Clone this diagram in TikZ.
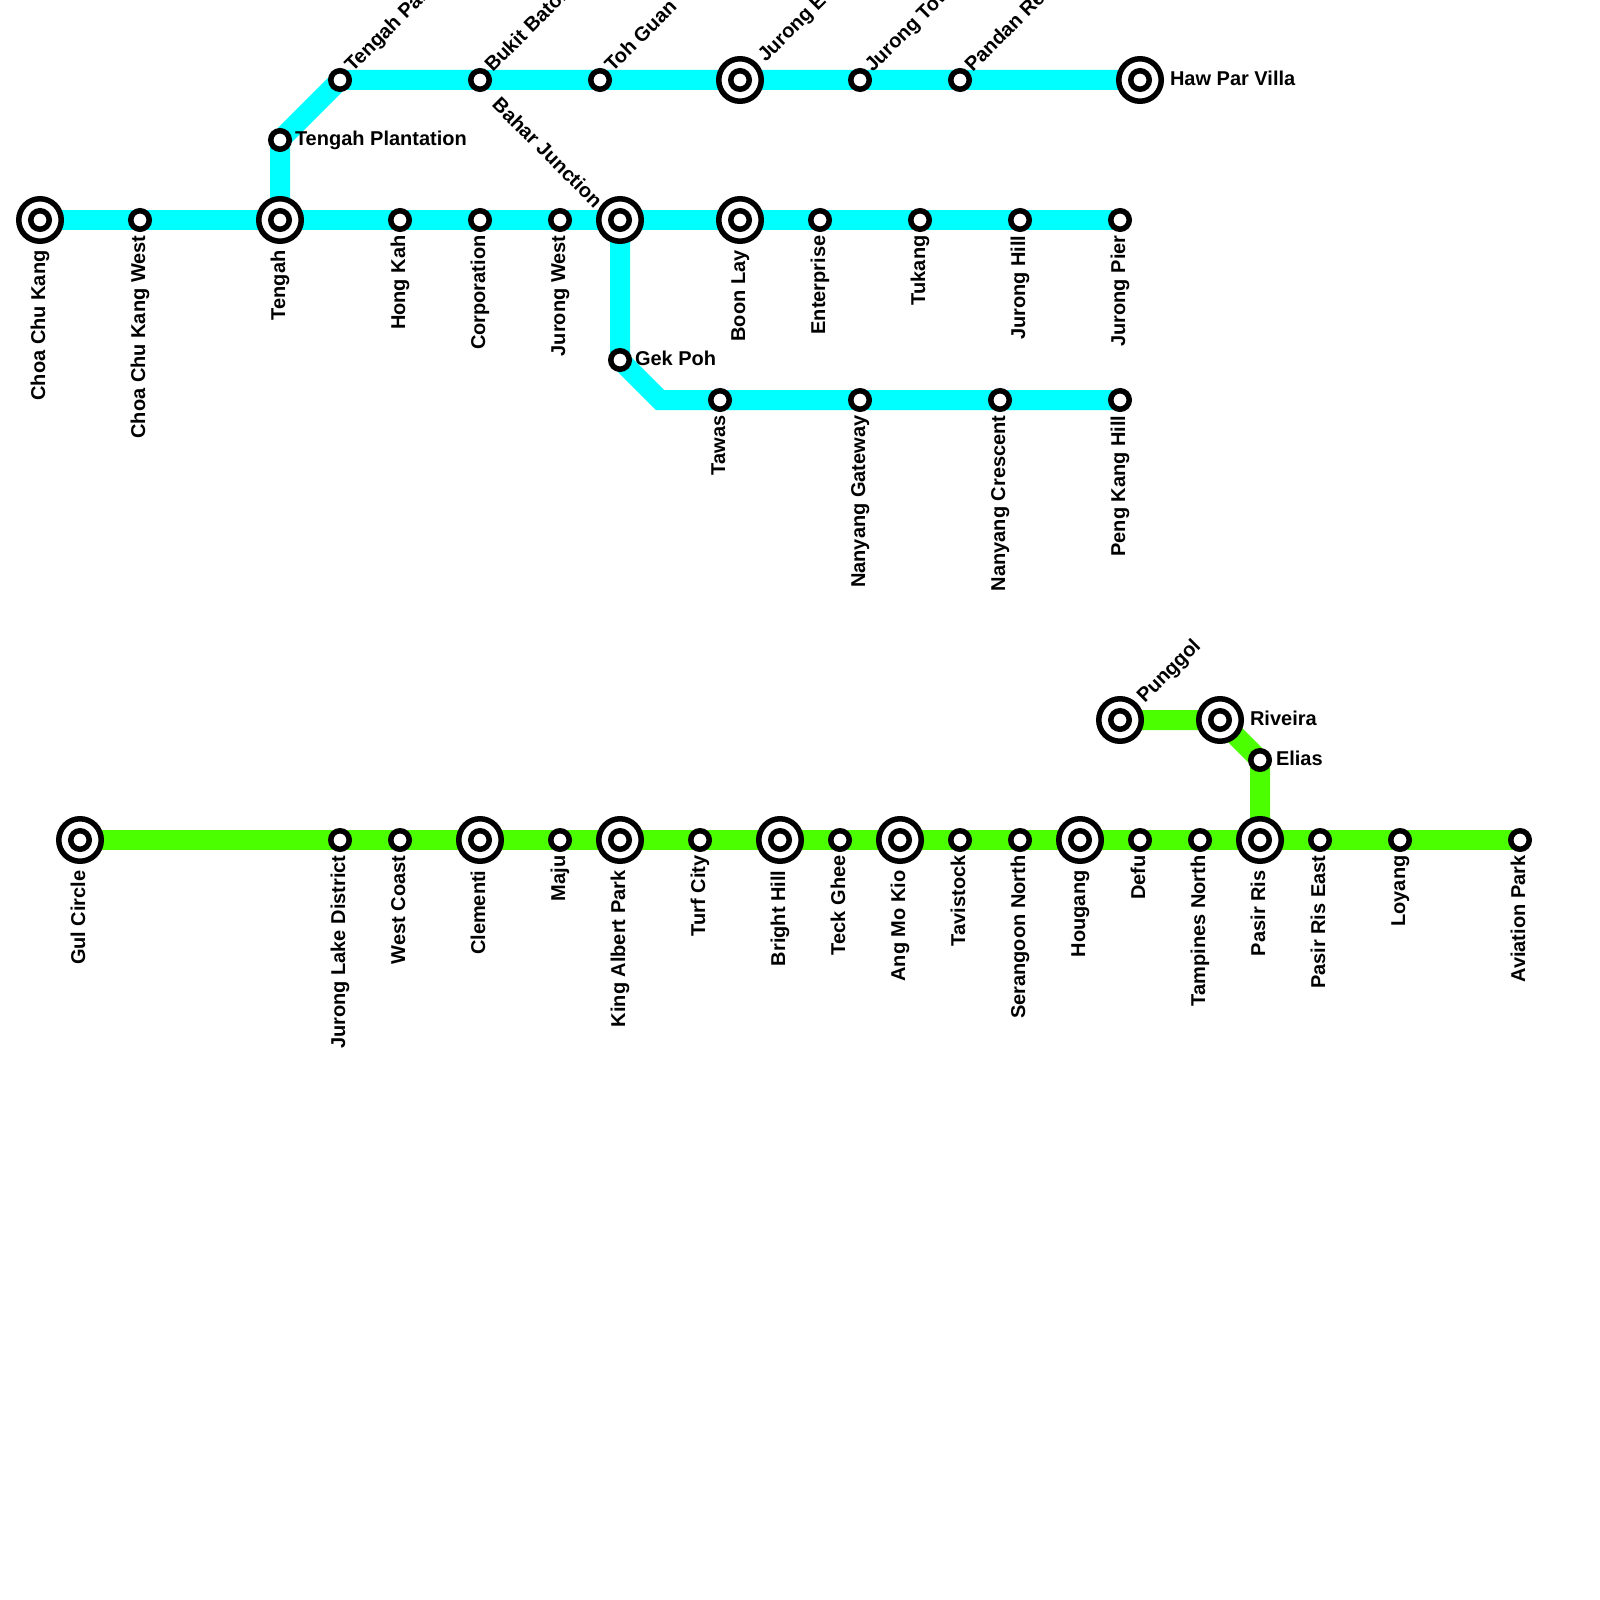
\documentclass[tikz,border=0pt]{standalone}
\usepackage{fontspec}
\setmainfont{Liberation Sans}
\usetikzlibrary{backgrounds}
\definecolor{lineblue}{HTML}{00FFFF}
\definecolor{linegreen}{HTML}{4CFF00}
\tikzset{
  stn/.style={circle,draw=black,fill=white,line width=5.5pt,minimum size=18.5pt,inner sep=0pt,outer sep=0pt},
  hub/.style={circle,draw=black,fill=white,line width=5.5pt,minimum size=42.5pt,inner sep=0pt,outer sep=0pt},
  txt/.style={inner sep=0pt,outer sep=0pt,font=\fontsize{20}{22}\selectfont\bfseries,text=black},
  lbldown/.style={txt,rotate=90,anchor=mid east,xshift=-0.5pt,yshift=-2.5pt},
  lblright/.style={txt,anchor=mid west,yshift=-0.5pt},
  lblup/.style={txt,rotate=45,anchor=mid west},
  lblback/.style={txt,rotate=-45,anchor=mid east},
  route/.style={line width=20pt,line join=miter,line cap=butt},
  bluer/.style={route,draw=lineblue},
  greenr/.style={route,draw=linegreen}
}
% \St{name}{x}{y}{label style}{label xoff}{label yoff}{text}
\newcommand{\St}[7]{\node[stn] (#1) at (#2,#3) {};
  \node[#4] (#1-t) at (#2+#5,#3+#6) {#7};}
\newcommand{\Hb}[7]{\node[hub] (#1) at (#2,#3) {};
  \node[stn] (#1-c) at (#1.center) {};
  \node[#4] (#1-t) at (#2+#5,#3+#6) {#7};}
\begin{document}
\begin{tikzpicture}[x=1pt,y=-1pt]
\useasboundingbox (0,0) rectangle (1600,1600);
% blue line stations
\Hb{cck}{40}{220}{lbldown}{0}{30}{Choa Chu Kang}
\St{cckw}{140}{220}{lbldown}{0}{15}{Choa Chu Kang West}
\Hb{tengah}{280}{220}{lbldown}{0}{30}{Tengah}
\St{tplant}{280}{140}{lblright}{15}{2}{Tengah Plantation}
\St{tpark}{340}{80}{lblup}{11}{-9}{Tengah Park}
\St{batok}{480}{80}{lblup}{11}{-9}{Bukit Batok}
\St{toh}{600}{80}{lblup}{11}{-9}{Toh Guan}
\Hb{jeast}{740}{80}{lblup}{24}{-19}{Jurong East}
\St{jtown}{860}{80}{lblup}{11}{-9}{Jurong Town Hall}
\St{pandan}{960}{80}{lblup}{11}{-9}{Pandan Reservoir}
\Hb{haw}{1140}{80}{lblright}{30}{2}{Haw Par Villa}
\St{hongkah}{400}{220}{lbldown}{0}{15}{Hong Kah}
\St{corp}{480}{220}{lbldown}{0}{15}{Corporation}
\St{jwest}{560}{220}{lbldown}{0}{15}{Jurong West}
\Hb{bahar}{620}{220}{lblback}{-24}{-13}{Bahar Junction}
\Hb{boon}{740}{220}{lbldown}{0}{30}{Boon Lay}
\St{enter}{820}{220}{lbldown}{0}{15}{Enterprise}
\St{tukang}{920}{220}{lbldown}{0}{15}{Tukang}
\St{jhill}{1020}{220}{lbldown}{0}{15}{Jurong Hill}
\St{jpier}{1120}{220}{lbldown}{0}{15}{Jurong Pier}
\St{gek}{620}{360}{lblright}{15}{2}{Gek Poh}
\coordinate (bend) at (660,400);
\St{tawas}{720}{400}{lbldown}{0}{15}{Tawas}
\St{ngate}{860}{400}{lbldown}{0}{15}{Nanyang Gateway}
\St{ncres}{1000}{400}{lbldown}{0}{15}{Nanyang Crescent}
\St{peng}{1120}{400}{lbldown}{0}{15}{Peng Kang Hill}
% green line stations
\Hb{gul}{80}{840}{lbldown}{0}{30}{Gul Circle}
\St{jld}{340}{840}{lbldown}{0}{15}{Jurong Lake District}
\St{wcoast}{400}{840}{lbldown}{0}{15}{West Coast}
\Hb{clem}{480}{840}{lbldown}{0}{30}{Clementi}
\St{maju}{560}{840}{lbldown}{0}{15}{Maju}
\Hb{kap}{620}{840}{lbldown}{0}{30}{King Albert Park}
\St{turf}{700}{840}{lbldown}{0}{15}{Turf City}
\Hb{bright}{780}{840}{lbldown}{0}{30}{Bright Hill}
\St{teck}{840}{840}{lbldown}{0}{15}{Teck Ghee}
\Hb{amk}{900}{840}{lbldown}{0}{30}{Ang Mo Kio}
\St{tavi}{960}{840}{lbldown}{0}{15}{Tavistock}
\St{sern}{1020}{840}{lbldown}{0}{15}{Serangoon North}
\Hb{houg}{1080}{840}{lbldown}{0}{30}{Hougang}
\St{defu}{1140}{840}{lbldown}{0}{15}{Defu}
\St{tamp}{1200}{840}{lbldown}{0}{15}{Tampines North}
\Hb{pasir}{1260}{840}{lbldown}{0}{30}{Pasir Ris}
\St{pre}{1320}{840}{lbldown}{0}{15}{Pasir Ris East}
\St{loyang}{1400}{840}{lbldown}{0}{15}{Loyang}
\St{avia}{1520}{840}{lbldown}{0}{15}{Aviation Park}
\Hb{pung}{1120}{720}{lblup}{23}{-18}{Punggol}
\Hb{riv}{1220}{720}{lblright}{30}{2}{Riveira}
\St{elias}{1260}{760}{lblright}{16}{2}{Elias}
\begin{scope}[on background layer]
\draw[bluer] (cck.center) -- (tengah.center) -- (bahar.center) -- (jpier.center);
\draw[bluer] (tengah.center) -- (tplant.center) -- (tpark.center) -- (haw.center);
\draw[bluer] (bahar.center) -- (gek.center) -- (bend) -- (peng.center);
\draw[greenr] (gul.center) -- (avia.center);
\draw[greenr] (pung.center) -- (riv.center) -- (elias.center) -- (pasir.center);
\end{scope}
\end{tikzpicture}
\end{document}
